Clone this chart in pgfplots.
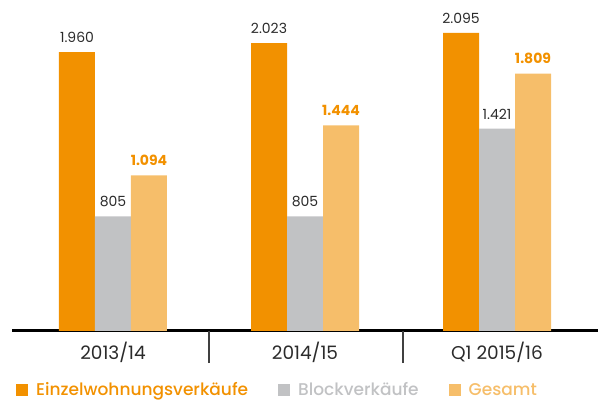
\documentclass[border=0pt]{standalone}
\usepackage{pgfplots}
\pgfplotsset{compat=1.18}
\usepackage{fontspec}
\setmainfont{Poppins}
\newfontfamily\med{Poppins Medium}
\definecolor{cA}{HTML}{F29100}
\definecolor{cB}{HTML}{C1C2C4}
\definecolor{cC}{HTML}{F6BE6A}
\definecolor{lab}{HTML}{2B2B2B}
\begin{document}
\begin{tikzpicture}
\begin{axis}[
  scale only axis, width=586pt, height=311pt,
  xmin=-0.526, xmax=2.526, ymin=0, ymax=2185,
  axis x line*=bottom, axis y line=none,
  x axis line style={line width=3pt, black, -},
  xtick={0,1,2}, xticklabels={2013/14, 2014/15, Q1 2015/16},
  major tick length=0pt,
  xticklabel style={font=\fontsize{18.5}{21}\selectfont, text=lab, anchor=base, yshift=-29pt},
  extra x ticks={0.5,1.51}, extra x tick labels={},
  extra x tick style={major tick length=32pt, tick align=outside,
    tick style={line width=1.3pt, color=black!75}},
  ybar, bar width=36pt,
  /pgf/number format/.cd, 1000 sep={.}, assume math mode=true, /pgfplots/.cd,
  nodes near coords,
  every node near coord/.append style={font=\fontsize{14}{16}\selectfont, text=lab, yshift=6pt},
  legend columns=3,
  legend style={at={(0,0)}, anchor=west, xshift=1pt, yshift=-59pt, draw=none, fill=none,
    font=\fontsize{17}{20}\selectfont\med, nodes={inner sep=0pt}, column sep=0pt},
  legend image code/.code={\fill[#1] (0pt,-6pt) rectangle (12pt,6pt);},
]
\addplot[fill=cA, draw=none, bar shift=-36pt] coordinates {(0,1960) (1,2023) (2,2095)};
\addplot[fill=cB, draw=none, bar shift=0pt] coordinates {(0,805) (1,805) (2,1421)};
\addplot[fill=cC, draw=none, bar shift=36pt,
  every node near coord/.append style={text=cA, font=\fontsize{14}{16}\selectfont\bfseries}]
  coordinates {(0,1094) (1,1444) (2,1809)};
\legend{\hspace*{8pt}\textcolor{cA}{Einzelwohnungsverkäufe}\hspace*{30pt},
  \hspace*{8pt}\textcolor{cB}{Blockverkäufe}\hspace*{30pt},
  \hspace*{8pt}\textcolor{cC}{Gesamt}}
\end{axis}
\pgfresetboundingbox
\useasboundingbox (-12pt,-70pt) rectangle (586pt,331pt);
\end{tikzpicture}
\end{document}
